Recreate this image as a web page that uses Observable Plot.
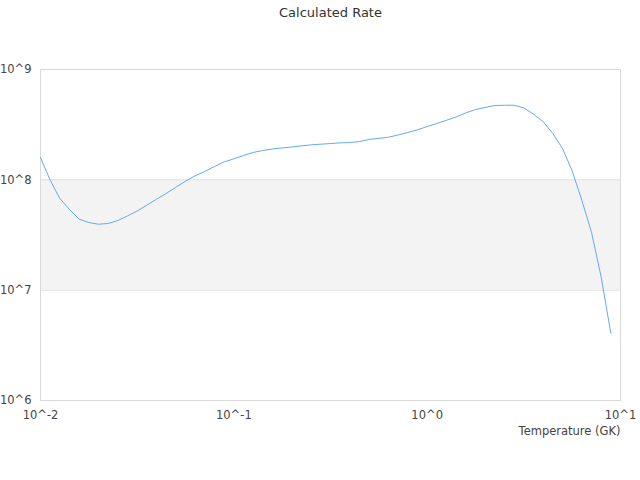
<!DOCTYPE html>
<html>
<head>
<meta charset="utf-8">
<script src="https://cdn.jsdelivr.net/npm/d3@7"></script>
<script src="https://cdn.jsdelivr.net/npm/@observablehq/plot@0.6"></script>
<style>
  body { margin: 0; background: #fff; }
  svg { font-family: "DejaVu Sans", sans-serif; }
</style>
</head>
<body>
<div id="chart"></div>
<script>
const temperature = [
  0.01, 0.01122, 0.01259, 0.01413, 0.01585, 0.01778, 0.01995, 0.02239, 0.02512, 0.02818,
  0.03162, 0.03548, 0.03981, 0.04467, 0.05012, 0.05623, 0.0631, 0.07079, 0.07943, 0.08913,
  0.1, 0.1122, 0.1259, 0.1413, 0.1585, 0.1778, 0.1995, 0.2239, 0.2512, 0.2818,
  0.3162, 0.3548, 0.3981, 0.4467, 0.5012, 0.5623, 0.631, 0.7079, 0.7943, 0.8913,
  1, 1.122, 1.259, 1.413, 1.585, 1.778, 1.995, 2.239, 2.512, 2.818,
  3.162, 3.548, 3.981, 4.467, 5.012, 5.623, 6.31, 7.079, 7.943, 8.913
];
const rate = [
  1.592e8, 9.93e7, 6.78e7, 5.38e7, 4.40e7, 4.10e7, 3.96e7, 4.02e7, 4.28e7, 4.71e7,
  5.22e7, 5.89e7, 6.67e7, 7.52e7, 8.57e7, 9.73e7, 1.089e8, 1.191e8, 1.321e8, 1.455e8,
  1.549e8, 1.663e8, 1.770e8, 1.845e8, 1.905e8, 1.945e8, 1.986e8, 2.032e8, 2.075e8, 2.104e8,
  2.133e8, 2.163e8, 2.178e8, 2.223e8, 2.323e8, 2.377e8, 2.432e8, 2.553e8, 2.685e8, 2.838e8,
  3.041e8, 3.243e8, 3.467e8, 3.715e8, 4.046e8, 4.335e8, 4.529e8, 4.721e8, 4.742e8, 4.742e8,
  4.487e8, 3.936e8, 3.365e8, 2.630e8, 1.923e8, 1.205e8, 6.53e7, 3.35e7, 1.318e7, 4.07e6
];
const xTicks = [0.01, 0.1, 1, 10];
const xTickLabels = ["10^-2", "10^-1", "10^0", "10^1"];
const yTicks = [1e6, 1e7, 1e8, 1e9];
const yTickLabels = ["10^6", "10^7", "10^8", "10^9"];
const bandLow = [1e7];
const bandHigh = [1e8];
const titleText = "Calculated Rate";
const xLabelText = "Temperature (GK)";

const data = temperature.map((t, i) => ({t, r: rate[i]}));
const bands = bandLow.map((lo, i) => ({lo, hi: bandHigh[i]}));
const xFmt = d => xTickLabels[xTicks.indexOf(d)];
const yFmt = d => yTickLabels[yTicks.indexOf(d)];

const chart = Plot.plot({
  width: 640,
  height: 480,
  marginTop: 69,
  marginBottom: 80,
  marginLeft: 40,
  marginRight: 20,
  style: {fontFamily: "DejaVu Sans, sans-serif", fontSize: "11.5px", color: "#444", background: "#fff"},
  x: {type: "log", domain: [0.01, 10], ticks: xTicks, tickFormat: xFmt},
  y: {type: "log", domain: [1e6, 1e9], ticks: yTicks, tickFormat: yFmt},
  marks: [
    Plot.rect(bands, {y1: "lo", y2: "hi", fill: "#f3f3f3"}),
    Plot.ruleY(yTicks.slice(1, -1), {stroke: "#e0e0e0", strokeWidth: 1}),
    Plot.frame({stroke: "#d9d9d9", strokeWidth: 1}),
    Plot.axisY({ticks: yTicks, tickSize: 0, tickPadding: 9, tickFormat: yFmt, label: null}),
    Plot.axisX({ticks: xTicks, tickSize: 0, tickPadding: 10, tickFormat: xFmt, label: null}),
    Plot.line(data, {x: "t", y: "r", stroke: "#64aaf0", strokeWidth: 1, curve: "linear"}),
    Plot.text([titleText], {frameAnchor: "top", dy: -57, fontSize: 13, fill: "#333", lineAnchor: "middle"}),
    Plot.text([xLabelText], {frameAnchor: "bottom-right", dy: 31, fontSize: 11.5, fill: "#444", textAnchor: "end", lineAnchor: "middle"})
  ]
});
document.getElementById("chart").appendChild(chart);
</script>
</body>
</html>
